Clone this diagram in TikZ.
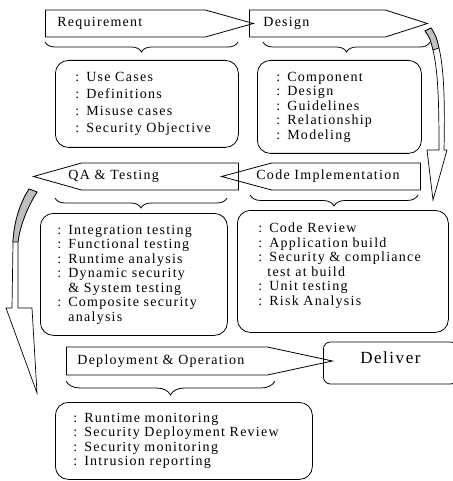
\documentclass[tikz,border=0pt]{standalone}
\usepackage{fontspec}
\setmainfont{Liberation Serif}[LetterSpace=9]
\usetikzlibrary{shapes.arrows, positioning, decorations.pathreplacing}

\begin{document}
\begin{tikzpicture}[x=1pt, y=-1pt, line width=0.8pt,
        phase/.style={draw, shape=single arrow, single arrow head extend=0pt, minimum width=27pt, inner sep=0pt},
        phasetext/.style={inner sep=0pt, font=\fontsize{14}{16}\selectfont},
        list/.style={draw, rounded corners=13pt, anchor=north west, inner ysep=0pt, align=left, font=\fontsize{14}{14.5}\selectfont},
        curly/.style={decorate, decoration={brace, mirror, amplitude=#1}},
        backface/.style={fill=black!25}
    ]
    \useasboundingbox (0,0) rectangle (452,481);

    % Phases
    \node[phase, single arrow tip angle=31.4, minimum height=208pt, anchor=tail] (req) at (45,23.5) {};
    \node[phase, single arrow tip angle=35.6, minimum height=178pt, anchor=tail] (design) at (249,23.5) {};
    \node[phase, shape border rotate=180, single arrow tip angle=31.4, minimum height=205pt, anchor=tip] (qa) at (32,176.5) {};
    \node[phase, shape border rotate=180, single arrow tip angle=30.2, minimum height=199pt, anchor=tip] (code) at (220,176.5) {};
    \node[phase, minimum width=28pt, single arrow tip angle=24.3, minimum height=266pt, anchor=tail] (deploy) at (66,361) {};
    \node[draw, rounded corners=7pt, minimum width=134pt, minimum height=42pt, anchor=west, text depth=11pt, font=\fontsize{17}{19}\selectfont] (deliver) at (323,363) {Deliver};

    \node[phasetext, right=12pt of req.tail] (reqlabel) {Requirement};
    \node[phasetext, right=14pt of design.tail] (designlabel) {Design};
    \node[phasetext, right=36pt of qa.tip] (qalabel) {QA \& Testing};
    \node[phasetext, right=36pt of code.tip] (codelabel) {Code Implementation};
    \node[phasetext, right=11pt of deploy.tail] (deploylabel) {Deployment \& Operation};

    % Activities
    \node[list, inner xsep=20pt, text width=143pt, minimum height=87pt, font=\fontsize{14}{17}\selectfont] (reqlist) at (55,60)
        {: Use Cases\\: Definitions\\: Misuse cases\\: Security Objective};
    \node[list, inner xsep=19pt, text width=126pt, minimum height=93pt] (designlist) at (257,60)
        {: Component\\: Design\\: Guidelines\\: Relationship\\: Modeling};
    \node[list, inner xsep=17pt, text width=153pt, minimum height=122pt] (qalist) at (40,213)
        {: Integration testing\\: Functional testing\\: Runtime analysis\\: Dynamic security\\\hspace*{11pt}\& System testing\\: Composite security\\\hspace*{11pt}analysis};
    \node[list, inner xsep=21pt, text width=169pt, minimum height=122pt] (codelist) at (237,210)
        {: Code Review\\: Application build\\: Security \& compliance\\\hspace*{9pt}test at build\\: Unit testing\\: Risk Analysis\\\mbox{}};
    \node[list, inner xsep=18pt, text width=221pt, minimum height=77pt] (deploylist) at (55,402)
        {: Runtime monitoring\\: Security Deployment Review\\: Security monitoring\\: Intrusion reporting};

    % Braces
    \draw[curly=10pt] (45,42) -- (238,42);
    \draw[curly=10pt] (263,42) -- (430,42);
    \draw[curly=10pt] (55,198) -- (227,198);
    \draw[curly=11pt] (250,195) -- (418,195);
    \draw[curly=14pt] (66,381) -- (275,381);

    % Design -> Code Implementation
    \draw[fill=white, line width=0.7pt] (431,28) .. controls (436,36) .. (439,48) .. controls (444,70) and (445,100) .. (444,150)
        -- (447,150) -- (433,200) -- (427,150) -- (439,150)
        .. controls (439,100) and (438,72) .. (433,50) .. controls (430,38) .. (425,31) -- cycle;
    \draw[backface, line width=0.7pt] (431,28) .. controls (436,36) .. (439,48) -- (433,50) .. controls (430,38) .. (425,31) -- cycle;

    % QA & Testing -> Deployment
    \draw[fill=white, line width=0.7pt] (29,189) .. controls (20,203) and (14,222) .. (13,242) -- (12,308)
        -- (6,308) -- (37,393) -- (32,308) -- (18,308) -- (18,242)
        .. controls (20,225) and (28,206) .. (37,192) -- cycle;
    \draw[backface, line width=0.7pt] (29,189) .. controls (20,203) and (14,222) .. (13,242) -- (18,242)
        .. controls (20,225) and (28,206) .. (37,192) -- cycle;
\end{tikzpicture}
\end{document}
